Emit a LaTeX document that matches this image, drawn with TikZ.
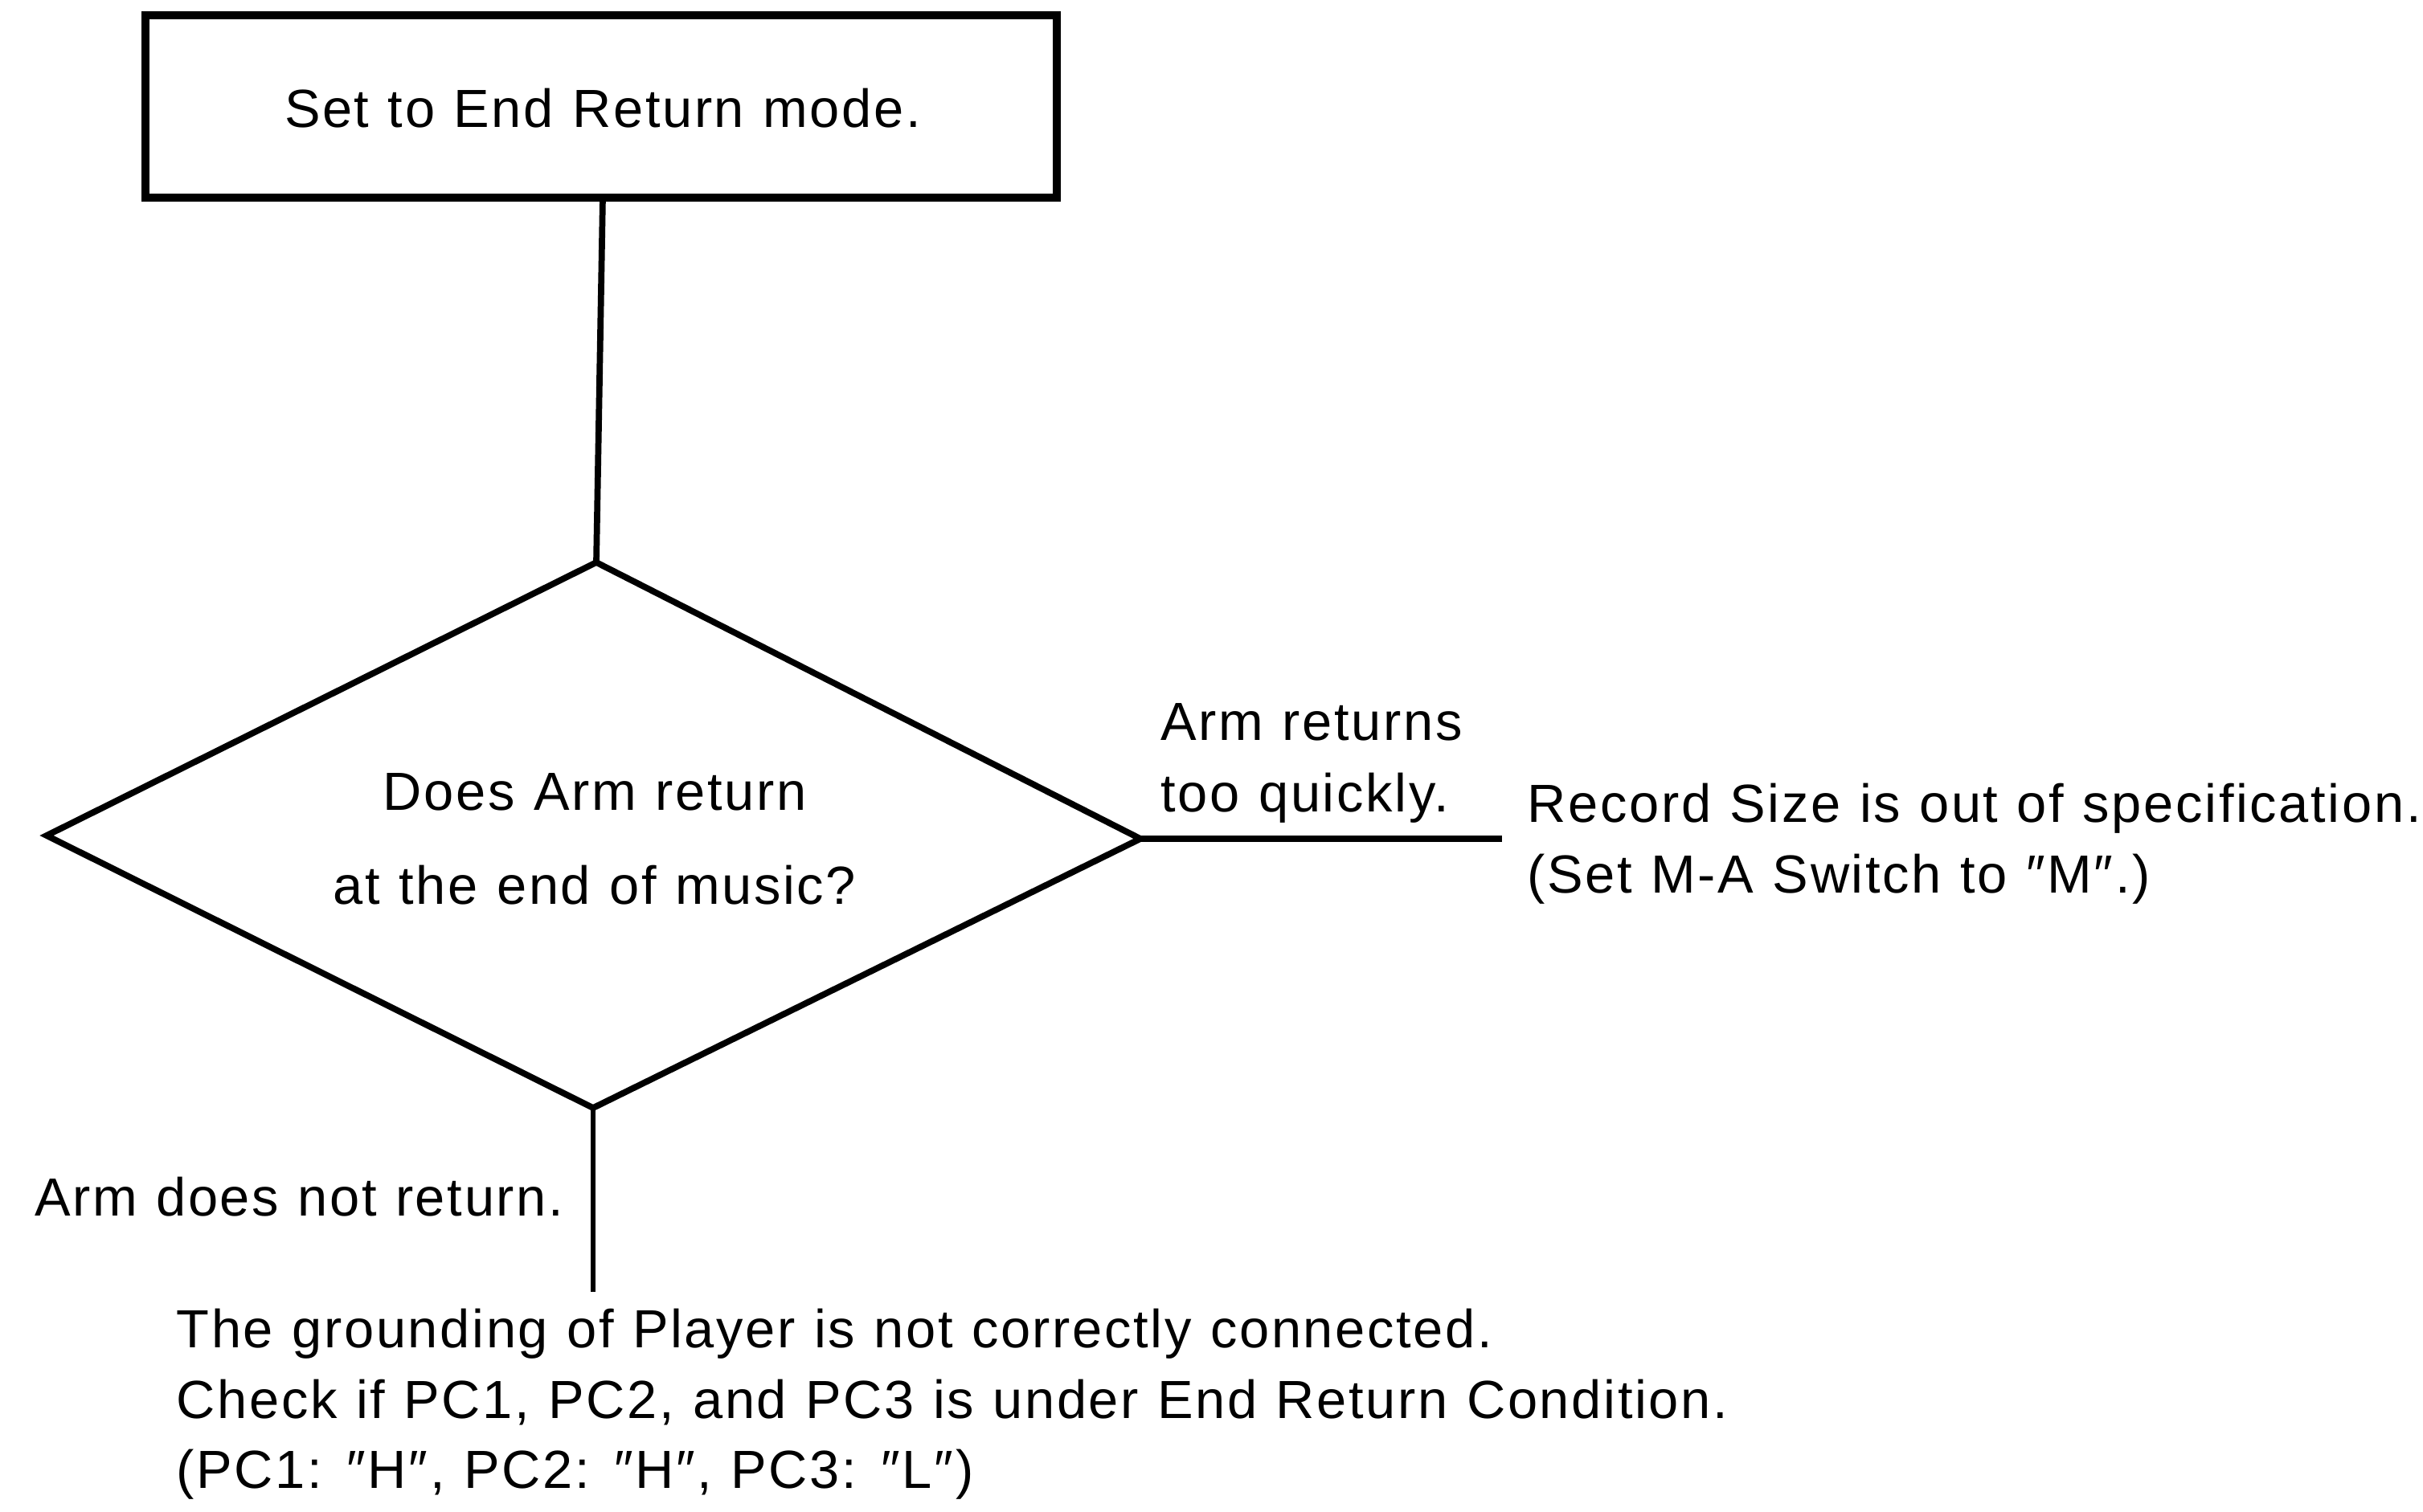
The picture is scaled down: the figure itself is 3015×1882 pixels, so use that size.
\documentclass[tikz,border=0pt]{standalone}
\usepackage{fontspec}
\setmainfont[LetterSpace=4,WordSpace=1.1]{Liberation Sans}
\usetikzlibrary{shapes.geometric}
\begin{document}
\begin{tikzpicture}[x=0.01cm,y=-0.01cm,
  txt/.style={font=\fontsize{19}{24}\selectfont, inner sep=0pt},
  conn/.style={line width=2.2pt}]
\useasboundingbox (0,0) rectangle (3015,1882);
% box
\draw[line width=3pt] (181,19) rectangle (1315,246);
\coordinate (boxb) at (750,246);
\node[txt] (box) at (750,135) {Set to End Return mode.};
% diamond
\coordinate (dT) at (742,700);
\coordinate (dB) at (738,1379);
\coordinate (dL) at (58,1040);
\coordinate (dR) at (1419,1044);
\draw[line width=2.2pt, line join=miter] (dT) -- (dR) -- (dB) -- (dL) -- cycle;
\node[txt, anchor=base] (q1) at (740,1008) {Does Arm return};
\node[txt, anchor=base] (q2) at (740,1125) {at the end of music?};
% connectors
\draw[conn] (boxb) -- (dT);
\coordinate (rEnd) at (1869,1044);
\draw[conn] (dR) -- (rEnd);
\coordinate (bEnd) at (738,1608);
\draw[line width=1.8pt] (dB) -- (bEnd);
% labels
\node[txt, anchor=base west] (l1) at (1444,921) {Arm returns};
\node[txt, anchor=base west] (l2) at (1444,1010) {too quickly.};
\node[txt, anchor=base west] (r1) at (1900,1023) {Record Size is out of specification.};
\node[txt, anchor=base west] (r2) at (1900,1111) {(Set M-A Switch to ″M″.)};
\node[txt, anchor=base east] (l3) at (702,1513) {Arm does not return.};
\node[txt, anchor=base west] (b1) at (219,1677) {The grounding of Player is not correctly connected.};
\node[txt, anchor=base west] (b2) at (219,1765) {Check if PC1, PC2, and PC3 is under End Return Condition.};
\node[txt, anchor=base west] (b3) at (219,1852) {(PC1: ″H″, PC2: ″H″, PC3: ″L″)};
\end{tikzpicture}
\end{document}
